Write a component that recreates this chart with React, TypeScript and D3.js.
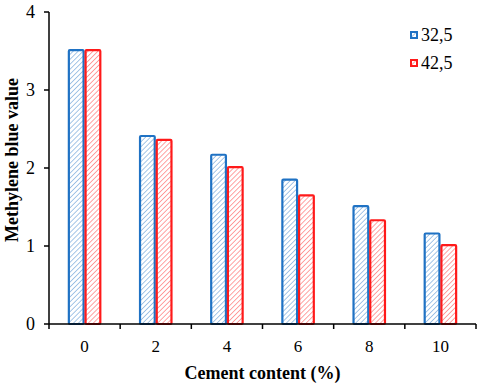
import React from 'react';
import { scaleBand, scaleLinear } from 'd3';

const categories = ['0', '2', '4', '6', '8', '10'];
const seriesNames = ['32,5', '42,5'];
const values325 = [3.51, 2.41, 2.17, 1.85, 1.51, 1.16];
const values425 = [3.51, 2.36, 2.01, 1.65, 1.33, 1.01];
const yTicks = [0, 1, 2, 3, 4];

const BLUE = '#1f72c4';
const RED = '#ff1a1a';
const FONT = "'Times New Roman', Tinos, 'Liberation Serif', serif";

const W = 480;
const H = 387;
const M = { left: 49, right: 4, top: 12, bottom: 63 };

export default function App() {
	const x = scaleBand().domain(categories).range([M.left, W - M.right]).padding(0);
	const inner = scaleBand()
		.domain(seriesNames)
		.range([x.bandwidth() * 0.265, x.bandwidth() * 0.735])
		.padding(0);
	const y = scaleLinear().domain([0, 4]).range([H - M.bottom, M.top]);
	const colors = [BLUE, RED];
	const series = [values325, values425];
	const bottom = y(0);
	const boundaries = [...categories.map((c) => x(c)), x(categories[categories.length - 1]) + x.bandwidth()];

	return (
		<svg
			width={W}
			height={H}
			fontFamily={FONT}
			style={{ position: 'absolute', left: 0, top: 0, display: 'block', background: '#fff' }}
		>
			<defs>
				{colors.map((c, i) => (
					<pattern
						key={c}
						id={`hatch${i}`}
						width="3.5"
						height="3.5"
						patternUnits="userSpaceOnUse"
						patternTransform="rotate(45)"
					>
						<rect width="3.5" height="3.5" fill="#fff" />
						<line x1="0" y1="0" x2="0" y2="3.5" stroke={c} strokeOpacity="0.5" strokeWidth="1.6" />
					</pattern>
				))}
			</defs>

			{categories.map((c, ci) =>
				seriesNames.map((s, si) => {
					const v = series[si][ci];
					const bx = x(c) + inner(s);
					return (
						<rect
							key={`${c}-${s}`}
							x={bx + 1}
							y={y(v)}
							width={inner.bandwidth() - 2}
							height={bottom - y(v)}
							fill={`url(#hatch${si})`}
							stroke={colors[si]}
							strokeWidth="2.2"
							rx="1"
						/>
					);
				}),
			)}

			{/* axes */}
			<line x1={M.left} x2={M.left} y1={M.top} y2={bottom} stroke="#000" strokeWidth="1.5" />
			<line x1={M.left} x2={W - M.right} y1={bottom} y2={bottom} stroke="#000" strokeWidth="1.5" />
			{yTicks.map((t) => (
				<g key={t}>
					<line x1={M.left - 5} x2={M.left} y1={y(t)} y2={y(t)} stroke="#000" strokeWidth="1.5" />
					<text x={35} y={y(t)} dy="0.35em" textAnchor="end" fontSize="18">
						{t}
					</text>
				</g>
			))}
			{boundaries.map((b, i) => (
				<line key={i} x1={b} x2={b} y1={bottom} y2={bottom + 5} stroke="#000" strokeWidth="1.5" />
			))}
			{categories.map((c) => (
				<text key={c} x={x(c) + x.bandwidth() / 2} y={352} textAnchor="middle" fontSize="17">
					{c}
				</text>
			))}

			<text
				x={(M.left + W - M.right) / 2}
				y={379}
				textAnchor="middle"
				fontSize="18"
				fontWeight="bold"
			>
				Cement content (%)
			</text>
			<text
				transform="translate(17.5, 160) rotate(-90)"
				textAnchor="middle"
				fontSize="18"
				fontWeight="bold"
			>
				Methylene blue value
			</text>

			{/* legend */}
			{seriesNames.map((s, i) => (
				<g key={s} transform={`translate(411, ${32 + i * 28})`}>
					<rect x="0" y="0" width="6" height="6" fill={`url(#hatch${i})`} stroke={colors[i]} strokeWidth="2" />
					<text x="10" y="3" dy="0.35em" fontSize="18">
						{s}
					</text>
				</g>
			))}
		</svg>
	);
}
